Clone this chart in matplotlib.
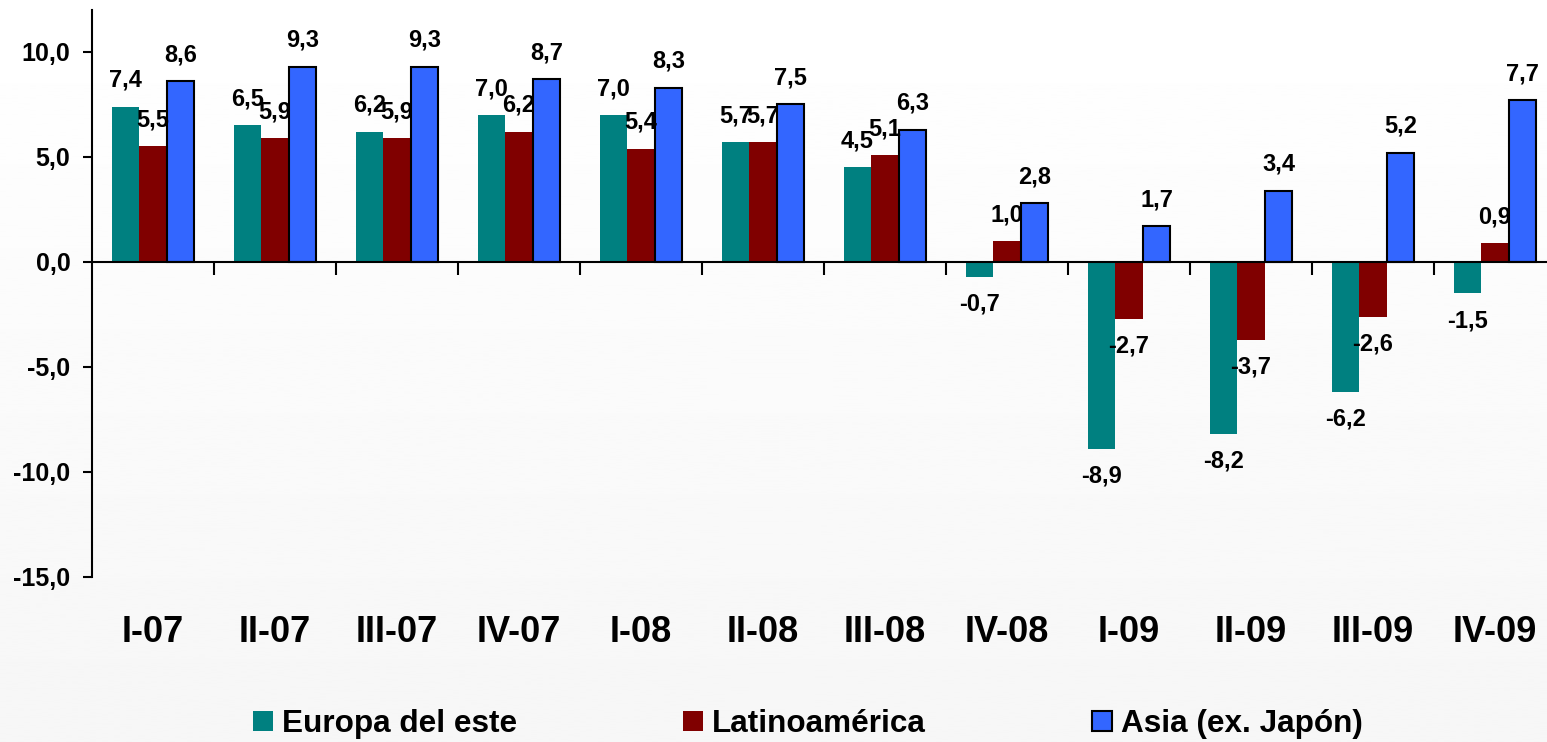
import matplotlib
matplotlib.use("Agg")
import matplotlib.pyplot as plt
import numpy as np

# ==================================================
# DATA
# ==================================================

quarters = ["I-07", "II-07", "III-07", "IV-07", "I-08", "II-08",
            "III-08", "IV-08", "I-09", "II-09", "III-09", "IV-09"]

europa_este = [7.4, 6.5, 6.2, 7.0, 7.0, 5.7, 4.5, -0.7, -8.9, -8.2, -6.2, -1.5]
latinoamerica = [5.5, 5.9, 5.9, 6.2, 5.4, 5.7, 5.1, 1.0, -2.7, -3.7, -2.6, 0.9]
asia_ex_japon = [8.6, 9.3, 9.3, 8.7, 8.3, 7.5, 6.3, 2.8, 1.7, 3.4, 5.2, 7.7]

series_names = ["Europa del este", "Latinoamérica", "Asia (ex. Japón)"]
y_ticks = [-15, -10, -5, 0, 5, 10]

# ==================================================
# STYLE
# ==================================================

plt.rcParams["font.family"] = ["Liberation Sans", "DejaVu Sans"]
plt.rcParams["font.weight"] = "bold"

W, H = 1547, 742
fig = plt.figure(figsize=(W / 100, H / 100), dpi=100)
fig.patch.set_facecolor("white")

# soft background gradient like the slide
bg = fig.add_axes([0, 0, 1, 1], zorder=-10)
grad = np.linspace(1.0, 0.965, 256).reshape(-1, 1)
bg.imshow(grad, aspect="auto", cmap="gray", vmin=0, vmax=1,
          extent=[0, 1, 0, 1])
bg.set_axis_off()

# axes placed in pixel terms
left_px, right_px = 92, 92 + 12 * 122
top_px, bottom_px = 10, 577
ax = fig.add_axes([left_px / W, 1 - bottom_px / H,
                   (right_px - left_px) / W, (bottom_px - top_px) / H])
ax.patch.set_alpha(0)

x = np.arange(len(quarters))
w = 0.226

colors = ["#008080", "#800000", "#3366FF"]
edges = ["none", "none", "black"]
series = [europa_este, latinoamerica, asia_ex_japon]

# ==================================================
# BARS + LABELS
# ==================================================

bars = []
for i, (vals, col, ec) in enumerate(zip(series, colors, edges)):
    b = ax.bar(x + (i - 1) * w, vals, width=w, color=col,
               edgecolor=ec, linewidth=1.5 if ec != "none" else 0,
               label=series_names[i], zorder=3)
    bars.append(b)
    for xi, v in zip(x + (i - 1) * w, vals):
        off = 19 if v >= 0 else -19.5
        ax.annotate(f"{v:.1f}".replace(".", ","), (xi, v),
                    xytext=(0, off), textcoords="offset points",
                    ha="center", va="center", fontsize=17,
                    fontweight="bold", zorder=5)

ax.set_xlim(-0.5, 11.5)
ax.set_ylim(-15, 12)

ax.spines["top"].set_visible(False)
ax.spines["right"].set_visible(False)
ax.spines["left"].set_linewidth(1.5)
ax.spines["bottom"].set_position(("data", 0))
ax.spines["bottom"].set_linewidth(1.5)
ax.spines["bottom"].set_zorder(4)

ax.set_yticks(y_ticks)
ax.set_yticklabels([f"{t:.1f}".replace(".", ",") for t in y_ticks],
                   fontsize=18, fontweight="bold")
ax.tick_params(axis="y", length=6.5, width=1.5, pad=9)

ax.set_xticks(x[:-1] + 0.5)
ax.set_xticklabels([])
ax.tick_params(axis="x", length=9.5, width=1.5, direction="out")

for xi, q in zip(x, quarters):
    ax.text(xi, -0.0976, q, transform=ax.get_xaxis_transform(),
            ha="center", va="center", fontsize=26, fontweight="bold")

# ==================================================
# LEGEND
# ==================================================

leg = fig.legend(handles=bars, labels=series_names,
                 loc="center left", bbox_to_anchor=(253 / W, 1 - 724 / H),
                 ncol=3, frameon=False,
                 prop={"weight": "bold", "size": 22.7},
                 handlelength=0.63, handleheight=0.63,
                 handletextpad=0.3, columnspacing=5.25, borderpad=0,
                 borderaxespad=0)

fig.savefig("out.png", dpi=100)
